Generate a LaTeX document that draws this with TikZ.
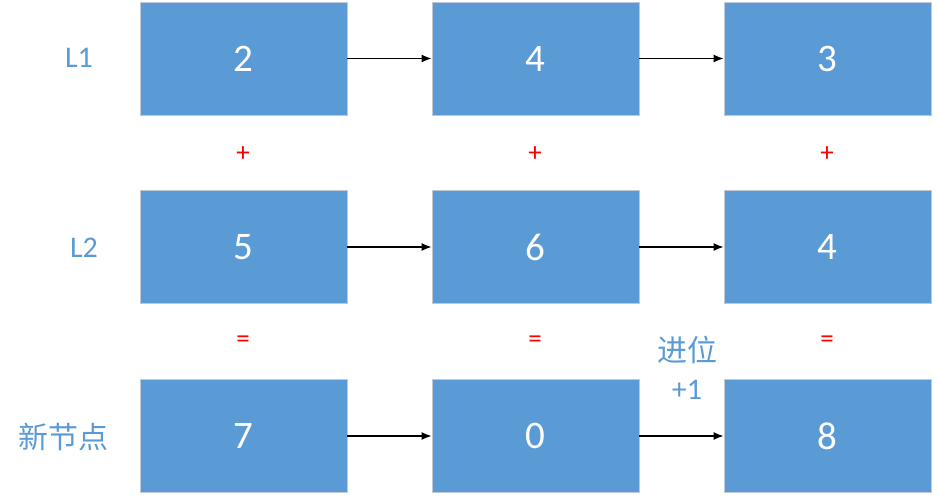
\documentclass[tikz,border=0pt]{standalone}
\usepackage{fontspec}
\setmainfont{Carlito}
\newfontfamily\cjk{Noto Sans CJK SC}
\usetikzlibrary{arrows.meta}
\definecolor{boxblue}{HTML}{5B9BD5}
\definecolor{boxedge}{HTML}{BFC8D4}
\begin{document}
\begin{tikzpicture}[x=1pt,y=-1pt,
  listbox/.style={draw=boxedge,line width=0.8pt,fill=boxblue,minimum width=207pt,minimum height=113pt,inner sep=0pt,text=white,font=\fontsize{39}{42}\selectfont},
  rowlabel/.style={text=boxblue,font=\fontsize{30}{32}\selectfont,inner sep=0pt},
  cjklabel/.style={text=boxblue,font=\cjk\fontsize{30}{32}\selectfont,inner sep=0pt},
  opsign/.style={text=red,font=\fontsize{27}{28}\selectfont,inner sep=0pt},
  link/.style={draw=black,line width=1.4pt,-{Latex[length=10pt,width=8pt]}}]
\useasboundingbox (0,0) rectangle (938,500);
% row 1
\node[listbox] (a1) at (243.5,58.5) {2};
\node[listbox] (a2) at (535.5,58.5) {4};
\node[listbox] (a3) at (827.5,58.5) {3};
% row 2
\node[listbox] (b1) at (243.5,247) {5};
\node[listbox] (b2) at (535.5,247) {6};
\node[listbox] (b3) at (827.5,247) {4};
% row 3
\node[listbox] (c1) at (243.5,436) {7};
\node[listbox] (c2) at (535.5,436) {0};
\node[listbox] (c3) at (827.5,436) {8};
% links
\draw[link] (a1) -- (a2);
\draw[link] (a2) -- (a3);
\draw[link] (b1) -- (b2);
\draw[link] (b2) -- (b3);
\draw[link] (c1) -- (c2);
\draw[link] (c2) -- (c3);
% labels
\node[rowlabel] (l1) at (79,58) {L1};
\node[rowlabel] (l2) at (84,248) {L2};
\node[cjklabel] (nn) at (64,437) {新节点};
\node[cjklabel] (jw) at (687,350) {进位};
\node[rowlabel] (p1) at (687,390) {+1};
% operators
\node[opsign] (o1) at (243,154) {+};
\node[opsign] (o2) at (535,154) {+};
\node[opsign] (o3) at (827,154) {+};
\node[opsign] (e1) at (243,342) {=};
\node[opsign] (e2) at (535,342) {=};
\node[opsign] (e3) at (827,342) {=};
\end{tikzpicture}
\end{document}
